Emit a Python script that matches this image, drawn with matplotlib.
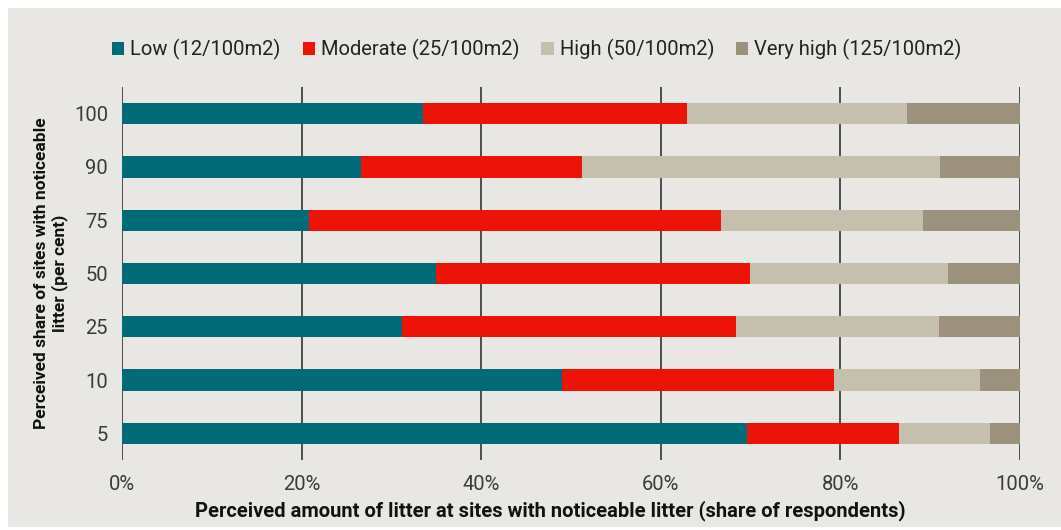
import numpy as np
import matplotlib
matplotlib.use("Agg")
from matplotlib import pyplot as plt
from matplotlib.patches import Rectangle

# data (share of respondents, %), rows from top to bottom
sites = ["100", "90", "75", "50", "25", "10", "5"]
low = [33.5, 26.6, 20.8, 35.0, 31.2, 49.0, 69.6]
moderate = [29.4, 24.6, 45.9, 34.9, 37.2, 30.3, 16.9]
high = [24.5, 39.9, 22.5, 22.1, 22.6, 16.3, 10.2]
very_high = [12.6, 8.9, 10.8, 8.0, 9.0, 4.4, 3.3]

series = [low, moderate, high, very_high]
names = ["Low (12/100m2)", "Moderate (25/100m2)", "High (50/100m2)", "Very high (125/100m2)"]
colors = ["#006b77", "#ee1309", "#c5bfad", "#9c917d"]

plt.rcParams['font.family'] = ['Roboto', 'DejaVu Sans']
bg = "#e8e7e3"

fig = plt.figure(figsize=(10.61, 5.30), dpi=100)
fig.patch.set_facecolor("white")
fig.patches.append(Rectangle((8/1061, 3/530), 1 - 8/1061, 1 - 11/530,
                             transform=fig.transFigure, facecolor=bg,
                             edgecolor="none", zorder=-5))

ax = fig.add_axes([122/1061, 1 - 460/530, 898/1061, 373/530])
ax.set_facecolor(bg)

y = np.arange(len(sites))
left = np.zeros(len(sites))
for vals, name, col in zip(series, names, colors):
    ax.barh(y, vals, left=left, height=0.4, color=col, label=name, zorder=3)
    left += np.array(vals)

ax.set_ylim(len(sites) - 0.5, -0.5)
ax.set_xlim(0, 100)
ax.set_xticks([0, 20, 40, 60, 80, 100])
ax.set_xticklabels(["0%", "20%", "40%", "60%", "80%", "100%"])
ax.set_yticks(y)
ax.set_yticklabels(sites)
ax.tick_params(length=0, labelsize=14.5, labelcolor="#3a3a3a")
ax.tick_params(axis="x", pad=11)
ax.tick_params(axis="y", pad=10)
ax.grid(axis="x", color="#333333", linewidth=1.2, zorder=1)
for s in ax.spines.values():
    s.set_visible(False)

ax.set_xlabel("Perceived amount of litter at sites with noticeable litter (share of respondents)",
              fontsize=14.5, fontweight="bold", color="#111111", labelpad=4)
ax.xaxis.label.set_x(0.477)
ax.set_ylabel("Perceived share of sites with noticeable\nlitter (per cent)",
              fontsize=12.5, fontweight="bold", color="#111111", labelpad=4)

leg = ax.legend(loc="lower center", bbox_to_anchor=(0.462, 1.05), ncol=4, frameon=False,
                fontsize=14.5, handlelength=0.6, handleheight=0.6, handletextpad=0.3,
                columnspacing=1.1, borderaxespad=0)
for t in leg.get_texts():
    t.set_color("#222222")

fig.savefig("out.png", dpi=100, facecolor=fig.get_facecolor())
